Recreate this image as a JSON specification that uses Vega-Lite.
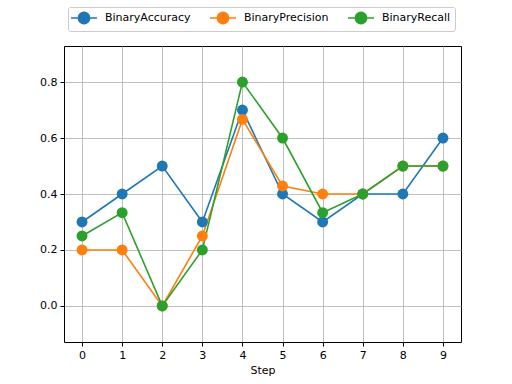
{
  "$schema": "https://vega.github.io/schema/vega-lite/v6.json",
  "width": 397,
  "height": 296,
  "autosize": "none",
  "padding": {"left": 64, "top": 46, "right": 51, "bottom": 42},
  "background": "white",
  "config": {
    "font": "DejaVu Sans",
    "view": {"stroke": "black", "strokeWidth": 1}
  },
  "data": {
    "values": [
      {"Step": 0, "Metric": "BinaryAccuracy", "Value": 0.3},
      {"Step": 1, "Metric": "BinaryAccuracy", "Value": 0.4},
      {"Step": 2, "Metric": "BinaryAccuracy", "Value": 0.5},
      {"Step": 3, "Metric": "BinaryAccuracy", "Value": 0.3},
      {"Step": 4, "Metric": "BinaryAccuracy", "Value": 0.7},
      {"Step": 5, "Metric": "BinaryAccuracy", "Value": 0.4},
      {"Step": 6, "Metric": "BinaryAccuracy", "Value": 0.3},
      {"Step": 7, "Metric": "BinaryAccuracy", "Value": 0.4},
      {"Step": 8, "Metric": "BinaryAccuracy", "Value": 0.4},
      {"Step": 9, "Metric": "BinaryAccuracy", "Value": 0.6},
      {"Step": 0, "Metric": "BinaryPrecision", "Value": 0.2},
      {"Step": 1, "Metric": "BinaryPrecision", "Value": 0.2},
      {"Step": 2, "Metric": "BinaryPrecision", "Value": 0.0},
      {"Step": 3, "Metric": "BinaryPrecision", "Value": 0.25},
      {"Step": 4, "Metric": "BinaryPrecision", "Value": 0.6667},
      {"Step": 5, "Metric": "BinaryPrecision", "Value": 0.4286},
      {"Step": 6, "Metric": "BinaryPrecision", "Value": 0.4},
      {"Step": 7, "Metric": "BinaryPrecision", "Value": 0.4},
      {"Step": 8, "Metric": "BinaryPrecision", "Value": 0.5},
      {"Step": 9, "Metric": "BinaryPrecision", "Value": 0.5},
      {"Step": 0, "Metric": "BinaryRecall", "Value": 0.25},
      {"Step": 1, "Metric": "BinaryRecall", "Value": 0.3333},
      {"Step": 2, "Metric": "BinaryRecall", "Value": 0.0},
      {"Step": 3, "Metric": "BinaryRecall", "Value": 0.2},
      {"Step": 4, "Metric": "BinaryRecall", "Value": 0.8},
      {"Step": 5, "Metric": "BinaryRecall", "Value": 0.6},
      {"Step": 6, "Metric": "BinaryRecall", "Value": 0.3333},
      {"Step": 7, "Metric": "BinaryRecall", "Value": 0.4},
      {"Step": 8, "Metric": "BinaryRecall", "Value": 0.5},
      {"Step": 9, "Metric": "BinaryRecall", "Value": 0.5}
    ]
  },
  "encoding": {
    "x": {
      "field": "Step",
      "type": "quantitative",
      "title": "Step",
      "scale": {"domain": [-0.45, 9.45], "nice": false, "zero": false},
      "axis": {
        "values": [0, 1, 2, 3, 4, 5, 6, 7, 8, 9],
        "format": "d",
        "grid": true,
        "gridColor": "#b0b0b0",
        "gridWidth": 0.8,
        "domain": false,
        "tickColor": "black",
        "tickSize": 4,
        "labelFontSize": 11,
        "labelColor": "black",
        "labelPadding": 3,
        "titleFontSize": 11,
        "titleFontWeight": "normal",
        "titleColor": "black",
        "titlePadding": 4
      }
    },
    "y": {
      "field": "Value",
      "type": "quantitative",
      "title": null,
      "scale": {"domain": [-0.129, 0.929], "nice": false, "zero": false},
      "axis": {
        "values": [0, 0.2, 0.4, 0.6, 0.8],
        "format": ".1f",
        "grid": true,
        "gridColor": "#b0b0b0",
        "gridWidth": 0.8,
        "domain": false,
        "tickColor": "black",
        "tickSize": 4,
        "labelFontSize": 11,
        "labelColor": "black",
        "labelPadding": 3
      }
    },
    "color": {
      "field": "Metric",
      "type": "nominal",
      "sort": ["BinaryAccuracy", "BinaryPrecision", "BinaryRecall"],
      "scale": {
        "domain": ["BinaryAccuracy", "BinaryPrecision", "BinaryRecall"],
        "range": ["#1f77b4", "#ff7f0e", "#2ca02c"]
      },
      "legend": {
        "title": null,
        "orient": "none",
        "legendX": 4,
        "legendY": -39,
        "direction": "horizontal",
        "gridAlign": "none",
        "symbolType": "M-1.333,0H3M1.75,0A0.917,0.917 0 1,1 -0.083,0A0.917,0.917 0 1,1 1.75,0Z",
        "symbolSize": 144,
        "symbolStrokeWidth": 1.6,
        "labelFontSize": 11,
        "labelColor": "black",
        "labelOffset": 19,
        "columnPadding": 15,
        "strokeColor": "#cccccc",
        "fillColor": "white",
        "cornerRadius": 2,
        "padding": 4
      }
    }
  },
  "layer": [
    {
      "mark": {"type": "line", "strokeWidth": 1.6},
      "encoding": {"detail": {"field": "Metric"}}
    },
    {
      "mark": {"type": "point", "shape": "circle", "filled": true, "size": 120, "opacity": 1}
    }
  ]
}
